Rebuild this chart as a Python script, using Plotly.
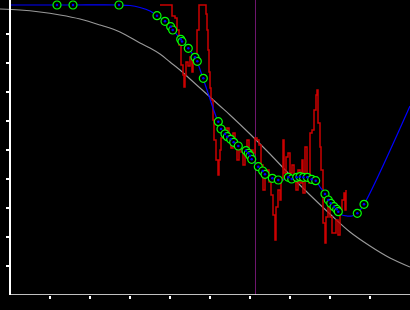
import plotly.graph_objects as go

# Smooth reference curve (gray)
gray_x = [-10, 10, 30, 50, 70, 90, 110, 130, 140, 150, 160, 170, 180, 190, 200, 210, 220, 240, 260, 280, 300, 320, 340, 360, 380, 400]
gray_y = [286, 285, 283, 280, 276, 270, 263, 252, 247, 241, 233, 225, 216, 207, 198, 189, 180, 161, 141, 120, 100, 81, 63, 49, 37, 28]

# Noisy raw signal (red)
red_x = [150, 161, 162, 165, 167, 169, 171, 173, 174, 175, 176, 178, 180, 182, 183, 185, 187, 189, 195, 196, 197, 198, 199, 200,
         201, 203, 204, 206, 208, 209, 210, 211, 213, 215, 217, 219, 221, 223, 225, 227, 229, 231, 233, 235, 237, 239, 241, 243,
         245, 247, 249, 251, 253, 255, 257, 259, 261, 263, 265, 266, 268, 270, 271, 273, 274, 276, 278, 280, 282, 284, 286, 288,
         290, 292, 293, 295, 297, 299, 300, 302, 304, 306, 307, 308, 310, 311, 313, 315, 316, 318, 320, 322, 324, 326, 328, 330,
         332, 334, 335, 336]
red_y = [290, 290, 279, 277, 265, 250, 230, 220, 208, 220, 233, 229, 238, 223, 235, 237, 265, 290, 290, 281, 265, 245, 223, 207,
         195, 175, 155, 135, 120, 135, 145, 157, 167, 160, 167, 155, 147, 162, 150, 135, 147, 143, 130, 145, 155, 135, 145, 142,
         157, 155, 150, 130, 105, 120, 125, 113, 100, 80, 55, 88, 105, 95, 115, 155, 122, 138, 142, 122, 130, 115, 105, 125,
         112, 135, 102, 148, 118, 112, 162, 165, 185, 200, 205, 172, 148, 125, 72, 52, 78, 88, 78, 62, 62, 75, 60, 85,
         95, 102, 85, 105]

# Smoothed fit (blue)
blue_x = [0, 47, 63, 109, 120, 130, 140, 147, 155, 161, 163, 171, 178, 185, 187, 193, 198, 203, 208, 211, 215, 218, 222, 225,
          228, 236, 239, 241, 242, 248, 252.7, 255, 262, 268, 274, 278, 281.7, 286.7, 290, 293.3, 297.3, 301.7, 305.7, 310, 315,
          318.3, 320.7, 324, 326.7, 328.3, 332, 337, 342, 347.3, 354, 400]
blue_y = [290, 290, 290, 290, 289.5, 287.5, 284, 279.3, 273.7, 268.3, 265, 255.5, 246.7, 237.7, 233.7, 216.7, 202, 187, 173.3,
          166, 161, 158, 155, 152.5, 149.5, 144.3, 141.5, 138, 135, 128.5, 124, 121, 116.7, 115, 115.5, 117.5, 116, 117.7, 118.3,
          117.7, 117.7, 115.7, 114.3, 108, 101, 95, 91.7, 88.3, 85.7, 83.3, 80, 79, 79, 81.7, 90.7, 189]

# Sample points (green rings)
pt_x = [47, 63, 109, 147, 155, 160.7, 162.7, 170.7, 172, 178.3, 185, 187.3, 193.3, 208.3, 211, 215, 217.3, 220.7, 223.7, 228.3,
        236, 238.3, 240, 241.7, 248.3, 252.7, 255, 262.3, 268.3, 278.3, 281.7, 286.7, 290, 293.3, 297.3, 301.7, 305.7, 315,
        318.3, 320.7, 324, 326.7, 328.3, 347.3, 354]
pt_y = [290, 290, 290, 279.3, 273.7, 268.3, 265, 255.7, 253.5, 246.7, 237.7, 233.7, 216.7, 173.3, 166, 161, 158.3, 155.7, 152.7,
        149, 144.3, 141.7, 139.3, 135.7, 128.3, 124, 120.7, 116.7, 115, 117.7, 116, 117.7, 118.3, 117.7, 117.7, 115.7, 114.3,
        101, 95, 91.7, 88.3, 85.7, 83.3, 81.7, 90.7]

marker_x = 245.5
x_ticks = [40, 80, 120, 160, 200, 240, 280, 320, 360]
y_ticks = [29, 58, 87, 116, 145, 174, 203, 232, 261]

fig = go.Figure()
fig.add_trace(go.Scatter(x=gray_x, y=gray_y, mode="lines", line=dict(color="#999999", width=1.1, shape="spline"),
                         hoverinfo="skip"))
fig.add_trace(go.Scatter(x=red_x, y=red_y, mode="lines", line=dict(color="#cc0000", width=1.5, shape="hv"),
                         hoverinfo="skip"))
fig.add_trace(go.Scatter(x=blue_x, y=blue_y, mode="lines", line=dict(color="#0000ff", width=1.2, shape="spline"),
                         hoverinfo="skip"))
fig.add_trace(go.Scatter(x=pt_x, y=pt_y, mode="markers",
                         marker=dict(symbol="circle", size=8, color="black", line=dict(color="#00ff00", width=1.2)),
                         hoverinfo="skip"))
fig.add_trace(go.Scatter(x=pt_x, y=pt_y, mode="markers",
                         marker=dict(symbol="circle", size=2.5, color="#0000ff", line=dict(width=0)),
                         hoverinfo="skip"))

fig.add_shape(type="line", xref="x", yref="paper", x0=marker_x, x1=marker_x, y0=0, y1=1,
              line=dict(color="#6e166e", width=1), layer="below")
fig.add_shape(type="line", xref="x", yref="y", x0=0, x1=400, y0=0, y1=0,
              line=dict(color="white", width=1.5), layer="above")

fig.update_layout(
    width=410, height=310,
    margin=dict(l=0, r=0, t=0, b=15, pad=0),
    paper_bgcolor="black", plot_bgcolor="black",
    showlegend=False,
    xaxis=dict(range=[-10, 400], showgrid=False, zeroline=False, showline=False,
               tickvals=x_ticks, ticks="outside", ticklen=3, tickwidth=1.5, tickcolor="white",
               showticklabels=False),
    yaxis=dict(range=[0, 295], showgrid=False, zeroline=False, showline=True, linecolor="white", linewidth=1.5,
               anchor="free", position=10 / 410,
               tickvals=y_ticks, ticks="outside", ticklen=3, tickwidth=1.5, tickcolor="white",
               showticklabels=False),
)

fig.write_html("out.html")
